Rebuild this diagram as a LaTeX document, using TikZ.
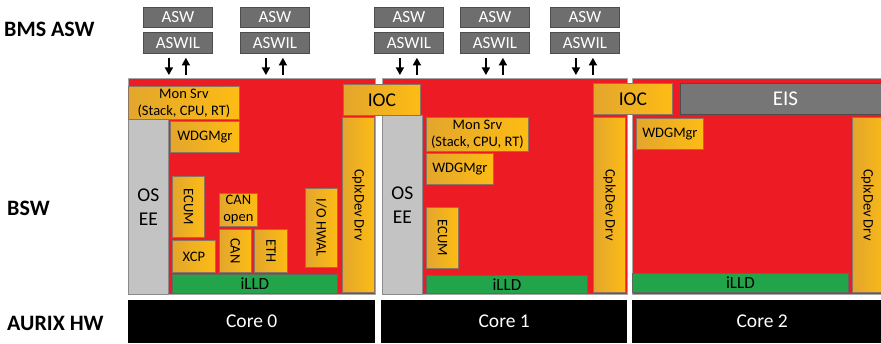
\documentclass[tikz,border=0pt]{standalone}
\usepackage{fontspec}
\setmainfont{Carlito}
\usepackage{tikz}
\usetikzlibrary{arrows.meta,positioning,calc}
\definecolor{bswred}{HTML}{ED1C24}
\definecolor{frame}{HTML}{A6A6A6}
\definecolor{aswgray}{HTML}{6E6E6E}
\definecolor{aswline}{HTML}{4D4D4D}
\definecolor{eisgray}{HTML}{767676}
\definecolor{ybL}{HTML}{E3A62C}
\definecolor{ybR}{HTML}{FDBC14}
\definecolor{ybline}{HTML}{8C7460}
\definecolor{osgray}{HTML}{C3C3C3}
\definecolor{osline}{HTML}{8A8A8A}
\definecolor{lldgreen}{HTML}{21A44A}
\definecolor{lldline}{HTML}{5E6A5A}

\begin{document}
\begin{tikzpicture}[
  x=1pt, y=-1pt,
  every node/.style={inner sep=0pt, align=center},
  lbl/.style={font=\bfseries\fontsize{22}{26}\selectfont, anchor=west},
  asw/.style={draw=aswline, fill=aswgray, text=white, line width=0.8pt,
              font=\fontsize{17}{20}\selectfont, minimum width=69, anchor=north west},
  bsw/.style={draw=frame, fill=bswred, line width=1.2pt, anchor=north west},
  yb/.style={draw=ybline, left color=ybL, right color=ybR, line width=0.8pt,
             font=\fontsize{14.5}{17}\selectfont, anchor=north west},
  big/.style={font=\fontsize{19.5}{23}\selectfont},
  os/.style={draw=osline, fill=osgray, line width=0.8pt,
             font=\fontsize{19.5}{23}\selectfont, anchor=north west},
  lld/.style={draw=lldline, fill=lldgreen, line width=0.8pt,
              font=\fontsize{17}{20}\selectfont, anchor=north west},
  eis/.style={draw=aswline, fill=eisgray, text=white, line width=0.8pt,
              font=\fontsize{21}{25}\selectfont, anchor=north west},
  core/.style={fill=black, text=white, font=\fontsize{19.5}{23}\selectfont,
               anchor=north west},
  flow/.style={-{Triangle[length=7.5pt,width=8pt]}, line width=1.4pt},
]
\useasboundingbox[fill=white] (0,0) rectangle (881,344);

% ---------- layer labels ----------
\node[lbl] (lasw) at (4,29) {BMS ASW};
\node[lbl] (lbsw) at (7,208) {BSW};
\node[lbl] (lhw) at (7,323) {AURIX HW};

% ---------- application software ----------
\foreach \i/\x in {0/143, 1/240, 2/374, 3/460, 4/550} {
  \node[asw, minimum height=20] (asw\i) at (\x,7) {ASW};
  \node[asw, minimum height=21] (aswil\i) at (\x,32) {ASWIL};
}

% ---------- red BSW areas and cores ----------
\node[bsw, minimum width=247, minimum height=216] (bsw0) at (128,78) {};
\node[bsw, minimum width=245, minimum height=216] (bsw1) at (382,78) {};
\node[bsw, minimum width=260, minimum height=216] (bsw2) at (632,78) {};

\node[core, minimum width=247, minimum height=43] (core0) at (128,300) {Core 0};
\node[core, minimum width=246, minimum height=43] (core1) at (381,300) {Core 1};
\node[core, minimum width=260, minimum height=43] (core2) at (632,300) {Core 2};

\foreach \i/\r in {0/bsw0, 1/bsw0, 2/bsw1, 3/bsw1, 4/bsw1} {
  \draw[flow] ($(aswil\i.south)+(-9,4)$) -- ($(aswil\i.south |- \r.north)+(-9,-3)$);
  \draw[flow] ($(aswil\i.south |- \r.north)+(8,-3)$) -- ($(aswil\i.south)+(8,4)$);
}

% ---------- core 0 ----------
\node[os, minimum width=40, minimum height=175] (os0) at (128,119)
  {OS\\[1pt]EE};
\node[yb, minimum width=111, minimum height=33] (mon0) at (128,86)
  {Mon Srv\\(Stack, CPU, RT)};
\node[yb, minimum width=69, minimum height=31] (wdg0) at (170,121) {WDGMgr};
\node[yb, minimum width=32, minimum height=61] (ecum0) at (172,176)
  {\rotatebox{-90}{ECUM}};
\node[yb, minimum width=43, minimum height=32] (xcp0) at (172,240) {XCP};
\node[yb, minimum width=38, minimum height=33] (canopen0) at (219,193)
  {CAN\\open};
\node[yb, minimum width=32, minimum height=43] (can0) at (219,229)
  {\rotatebox{-90}{CAN}};
\node[yb, minimum width=33, minimum height=43] (eth0) at (254,229)
  {\rotatebox{-90}{ETH}};
\node[yb, minimum width=32, minimum height=79] (iohwal0) at (305,188)
  {\rotatebox{-90}{I/O HWAL}};
\node[lld, minimum width=165, minimum height=19] (illd0) at (172,274) {iLLD};
\node[yb, minimum width=32, minimum height=175] (cdd0) at (342,117)
  {\rotatebox{-90}{CplxDev Drv}};

% ---------- core 1 ----------
\node[os, minimum width=40, minimum height=179] (os1) at (382,115)
  {OS\\[1pt]EE};
\node[yb, minimum width=102, minimum height=34] (mon1) at (426,117)
  {Mon Srv\\(Stack, CPU, RT)};
\node[yb, minimum width=67, minimum height=31] (wdg1) at (426,153) {WDGMgr};
\node[yb, minimum width=32, minimum height=61] (ecum1) at (426,207)
  {\rotatebox{-90}{ECUM}};
\node[lld, minimum width=161, minimum height=18] (illd1) at (426,275) {iLLD};
\node[yb, minimum width=32, minimum height=175] (cdd1) at (593,117)
  {\rotatebox{-90}{CplxDev Drv}};

% ---------- core 2 ----------
\node[eis, minimum width=210, minimum height=31] (eis) at (680,83) {EIS};
\node[yb, minimum width=67, minimum height=31] (wdg2) at (636,118) {WDGMgr};
\node[lld, minimum width=216, minimum height=19] (illd2) at (632,273) {iLLD};
\node[yb, minimum width=38, minimum height=175] (cdd2) at (852,117)
  {\hspace*{-8pt}\rotatebox{-90}{CplxDev Drv}};

% ---------- inter-core communication ----------
\node[yb, big, minimum width=77, minimum height=31] (ioc0) at (343,84) {IOC};
\node[yb, big, minimum width=79, minimum height=31] (ioc1) at (593,83) {IOC};
\end{tikzpicture}
\end{document}
